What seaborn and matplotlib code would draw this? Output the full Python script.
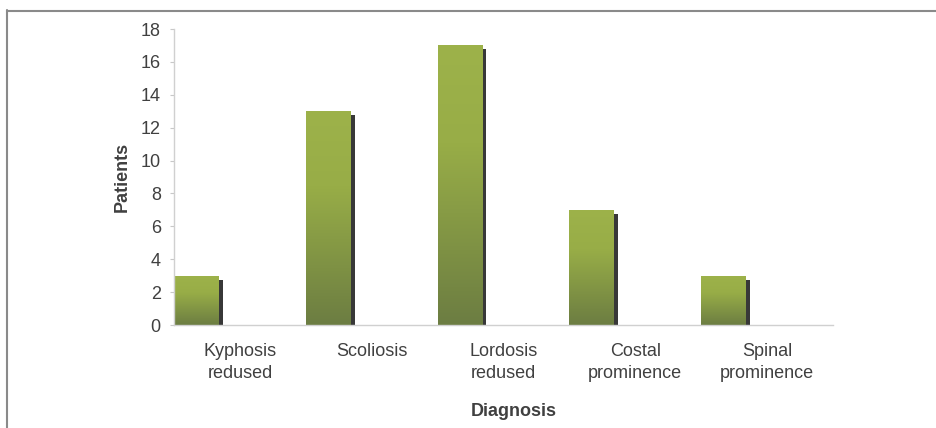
import numpy as np
import pandas as pd
import matplotlib
matplotlib.use("Agg")
import matplotlib.pyplot as plt
import matplotlib.patheffects as pe
from matplotlib.colors import LinearSegmentedColormap
from matplotlib.lines import Line2D
import seaborn as sns

# Diagnosis counts
categories = ["Kyphosis\nredused", "Scoliosis", "Lordosis\nredused",
              "Costal\nprominence", "Spinal\nprominence"]
patients = [3, 13, 17, 7, 3]
y_ticks = [0, 2, 4, 6, 8, 10, 12, 14, 16, 18]

sns.set_theme(style="white")
plt.rcParams["font.family"] = ["Liberation Sans", "DejaVu Sans"]

df = pd.DataFrame({"Diagnosis": categories, "Patients": patients})

fig = plt.figure(figsize=(9.37, 4.28), dpi=100)
ax = fig.add_axes([174 / 937, 1 - 325 / 428, (833 - 174) / 937, (325 - 29) / 428])

bar_w = 0.34
sns.barplot(data=df, x="Diagnosis", y="Patients", order=categories,
            color="#9bb047", width=bar_w, saturation=1, linewidth=0,
            edgecolor="none", ax=ax)

# olive gradient, light on top fading darker toward the base
grad = LinearSegmentedColormap.from_list(
    "olive", [(0.0, "#9db24a"), (0.35, "#98ad47"), (0.6, "#879b45"), (1.0, "#6c7d42")])
shade = np.linspace(0, 1, 1024).reshape(-1, 1)
for p in ax.patches:
    p.set_path_effects([pe.SimplePatchShadow(offset=(2.9, -2.9),
                                             shadow_rgbFace="#383838", alpha=1.0),
                        pe.Normal()])
    x0, y0 = p.get_x(), p.get_y()
    w, h = p.get_width(), p.get_height()
    im = ax.imshow(shade, cmap=grad, aspect="auto",
                   extent=[x0, x0 + w, y0, y0 + h], origin="upper",
                   zorder=p.get_zorder() + 0.1, interpolation="antialiased")
    im.set_clip_path(p)

n = len(categories)
ax.set_xlim(-bar_w / 2, n - bar_w / 2)
ax.set_ylim(0, 18)
ax.set_yticks(y_ticks)
ax.set_xticks(np.arange(n) - bar_w / 2 + 0.5)
ax.set_xticklabels(categories, linespacing=1.4)

tick_color = "#404040"
ax.tick_params(axis="x", length=0, pad=13, labelsize=13, colors=tick_color)
ax.tick_params(axis="y", length=3, width=0.8, color="#c8c8c8", pad=6.5,
               labelsize=13, labelcolor=tick_color, left=True)

for side in ["top", "right"]:
    ax.spines[side].set_visible(False)
for side in ["left", "bottom"]:
    ax.spines[side].set_color("#d0d0d0")
    ax.spines[side].set_linewidth(1.0)

ax.set_ylabel("Patients", fontsize=13, fontweight="bold", color="#404040")
ax.set_xlabel("Diagnosis", fontsize=13, fontweight="bold", color="#404040")
ax.yaxis.set_label_coords((131 - 174) / 659, 0.5)
ax.xaxis.set_label_coords((514 - 174) / 659, -(403 - 325) / 296)

# page frame lines along the top and left edges
fig.add_artist(Line2D([7 / 937, 1.0], [1 - 10.5 / 428, 1 - 10.5 / 428],
                      transform=fig.transFigure, color="#8a8a8a", lw=1.5))
fig.add_artist(Line2D([7.5 / 937, 7.5 / 937], [0.0, 1 - 10 / 428],
                      transform=fig.transFigure, color="#8a8a8a", lw=1.5))

fig.savefig("out.png", dpi=100)
